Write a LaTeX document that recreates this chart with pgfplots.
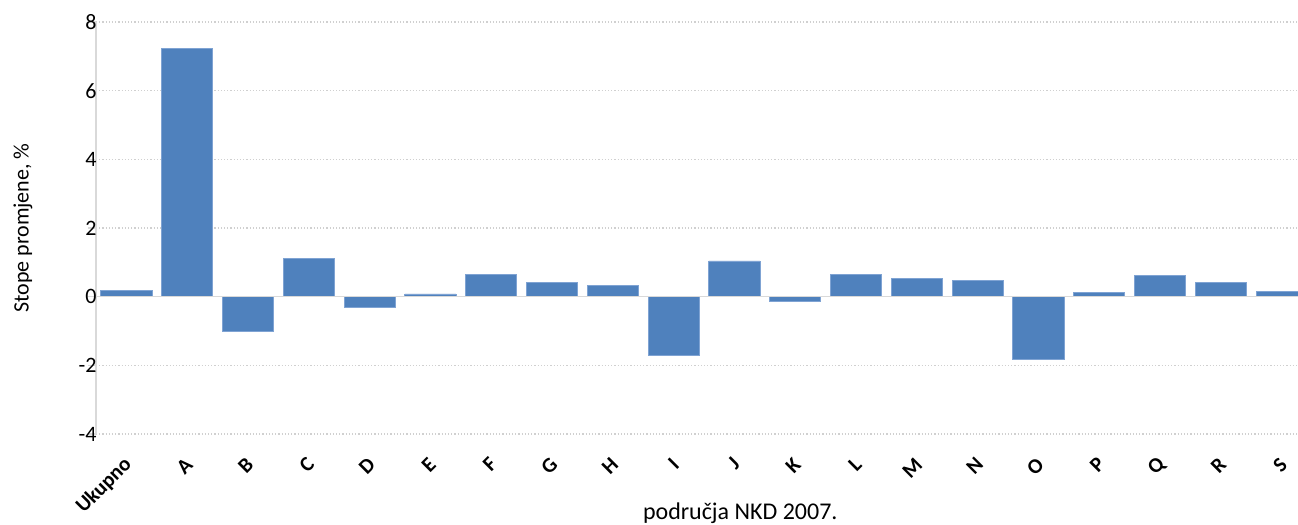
\documentclass[border=0pt]{standalone}
\usepackage{pgfplots}
\pgfplotsset{compat=1.18}
\usepackage{fontspec}
\setmainfont{Carlito}
\definecolor{barblue}{HTML}{4F81BD}
\definecolor{baredge}{HTML}{7FA3D3}
\definecolor{axgray}{HTML}{D9D9D9}
\definecolor{gridgray}{HTML}{D0D0D0}
\begin{document}
\begin{tikzpicture}
\begin{axis}[
  name=ax,
  scale only axis,
  width=1202pt, height=412pt,
  xmin=-0.5, xmax=19.27,
  ymin=-4, ymax=8,
  ytick={-4,-2,0,2,4,6,8},
  xtick={0,1,2,3,4,5,6,7,8,9,10,11,12,13,14,15,16,17,18,19},
  xticklabels={Ukupno,A,B,C,D,E,F,G,H,I,J,K,L,M,N,O,P,Q,R,S},
  axis x line*=bottom,
  axis y line*=left,
  x axis line style={draw=none},
  y axis line style={draw=axgray, line width=1.3pt},
  ytick style={draw=axgray, line width=1.3pt},
  xtick style={draw=none},
  tick align=outside,
  major tick length=8pt,
  ymajorgrids,
  grid style={draw=gridgray, line width=1.2pt, dash pattern=on 1.2pt off 2pt},
  /pgf/number format/assume math mode=true,
  yticklabel style={font=\fontsize{22}{24}\selectfont, text=black, xshift=12pt},
  x tick label style={font=\bfseries\fontsize{21}{23}\selectfont, rotate=45, anchor=east, inner sep=1pt, yshift=-15pt, xshift=-11pt},
  ylabel={Stope promjene, \%},
  ylabel style={font=\fontsize{22}{24}\selectfont, at={(axis description cs:-0.050,0.5)}, anchor=south},
  xlabel={područja NKD 2007.},
  xlabel style={font=\fontsize{24}{26}\selectfont, at={(axis description cs:0.536,0)}, anchor=base, yshift=-85pt},
]
\addplot[ybar, bar width=0.84, fill=barblue, draw=baredge, line width=0.8pt] coordinates {
(0,0.18) (1,7.22) (2,-1.02) (3,1.12) (4,-0.32) (5,0.08) (6,0.66) (7,0.41) (8,0.33) (9,-1.72)
(10,1.04) (11,-0.14) (12,0.66) (13,0.54) (14,0.46) (15,-1.84) (16,0.13) (17,0.63) (18,0.41) (19,0.15)
};
\draw[axgray, line width=1.5pt] (axis cs:-0.5,0) -- (axis cs:19.27,0);
\coordinate (bl) at (rel axis cs:0,0);
\coordinate (tr) at (rel axis cs:1,1);
\end{axis}
\pgfresetboundingbox
\path[use as bounding box] ([shift={(-96pt,-90pt)}]bl) rectangle ([shift={(0pt,22pt)}]tr);
\end{tikzpicture}
\end{document}
